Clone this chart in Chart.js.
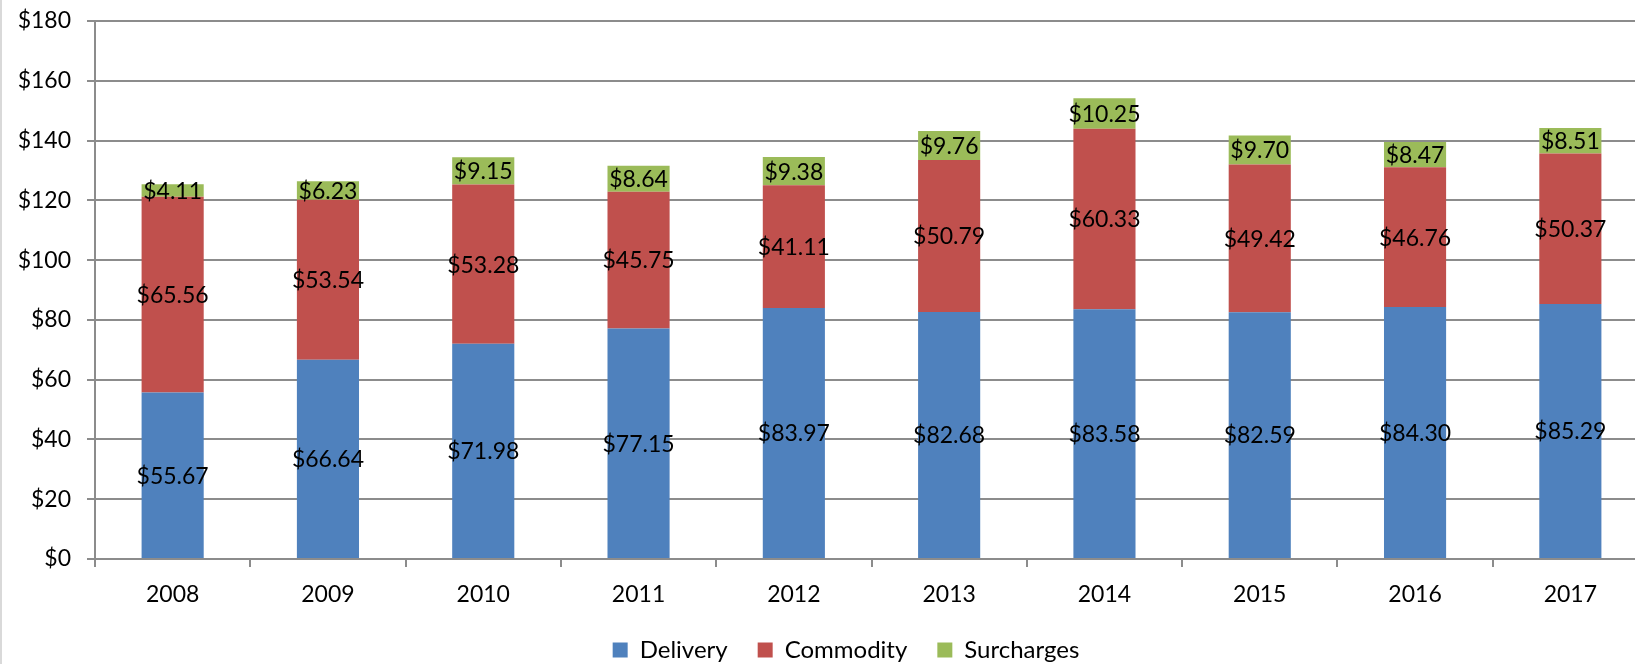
<!DOCTYPE html>
<html>
<head>
<meta charset="utf-8">
<script src="https://cdn.jsdelivr.net/npm/chart.js@4"></script>
<style>
  html, body { margin: 0; padding: 0; background: #fff; overflow: hidden; }
  #wrap { position: relative; width: 1692px; height: 672px; }
  #edge { position: absolute; left: 0; top: 0; width: 2px; height: 672px; background: #d9d9d9; }
</style>
</head>
<body>
<div id="wrap">
  <canvas id="costChart"></canvas>
  <div id="edge"></div>
</div>
<script>
const years = ['2008', '2009', '2010', '2011', '2012', '2013', '2014', '2015', '2016', '2017']
const delivery = [55.67, 66.64, 71.98, 77.15, 83.97, 82.68, 83.58, 82.59, 84.30, 85.29]
const commodity = [65.56, 53.54, 53.28, 45.75, 41.11, 50.79, 60.33, 49.42, 46.76, 50.37]
const surcharges = [4.11, 6.23, 9.15, 8.64, 9.38, 9.76, 10.25, 9.70, 8.47, 8.51]

const FONT = 'Lato, "Open Sans", sans-serif'
const gridGray = '#8c8c8c'

// Value labels centred in each stacked segment
const segmentLabels = {
  id: 'segmentLabels',
  afterDatasetsDraw(chart) {
    const ctx = chart.ctx
    ctx.save()
    ctx.font = '23px ' + FONT
    ctx.fillStyle = '#000'
    ctx.textAlign = 'center'
    ctx.textBaseline = 'middle'
    chart.data.datasets.forEach((ds, i) => {
      const meta = chart.getDatasetMeta(i)
      meta.data.forEach((bar, j) => {
        const y = (bar.y + bar.base) / 2
        ctx.fillText('$' + ds.data[j].toFixed(2), bar.x, y + 1)
      })
    })
    ctx.restore()
  }
}

const ctx = document.getElementById('costChart').getContext('2d')
new Chart(ctx, {
  type: 'bar',
  data: {
    labels: years,
    datasets: [
      { label: 'Delivery', data: delivery, backgroundColor: '#4f81bd' },
      { label: 'Commodity', data: commodity, backgroundColor: '#c0504d' },
      { label: 'Surcharges', data: surcharges, backgroundColor: '#9bbb59' }
    ]
  },
  options: {
    responsive: true,
    maintainAspectRatio: false,
    animation: false,
    layout: { padding: { top: 21, left: 0, right: 0, bottom: 0 } },
    datasets: {
      bar: { barPercentage: 0.4, categoryPercentage: 1.0, borderWidth: 0 }
    },
    plugins: {
      tooltip: { enabled: false },
      legend: {
        position: 'bottom',
        labels: {
          color: '#000',
          font: { family: FONT, size: 24 },
          boxWidth: 15,
          boxHeight: 15,
          padding: 30
        }
      }
    },
    scales: {
      x: {
        stacked: true,
        grid: { display: true, drawOnChartArea: false, color: gridGray, lineWidth: 2, tickLength: 8, offset: true },
        border: { color: gridGray, width: 2 },
        ticks: { color: '#000', font: { family: FONT, size: 23 }, padding: 14 },
        afterFit(scale) { scale.height = 49 }
      },
      y: {
        stacked: true,
        min: 0,
        max: 180,
        grid: { color: gridGray, lineWidth: 2, tickLength: 8 },
        border: { color: gridGray, width: 2 },
        ticks: {
          stepSize: 20,
          color: '#000',
          font: { family: FONT, size: 23 },
          padding: 16,
          callback: function (value) {
            return '$' + value
          }
        },
        afterFit(scale) {
          scale.width = 95
          scale.paddingTop = 0
          scale.paddingBottom = 0
        }
      },
      spacer: {
        position: 'right',
        display: true,
        grid: { display: false },
        border: { display: false },
        ticks: { display: false },
        afterFit(scale) { scale.width = 44 }
      }
    }
  },
  plugins: [segmentLabels]
})
</script>
</body>
</html>
